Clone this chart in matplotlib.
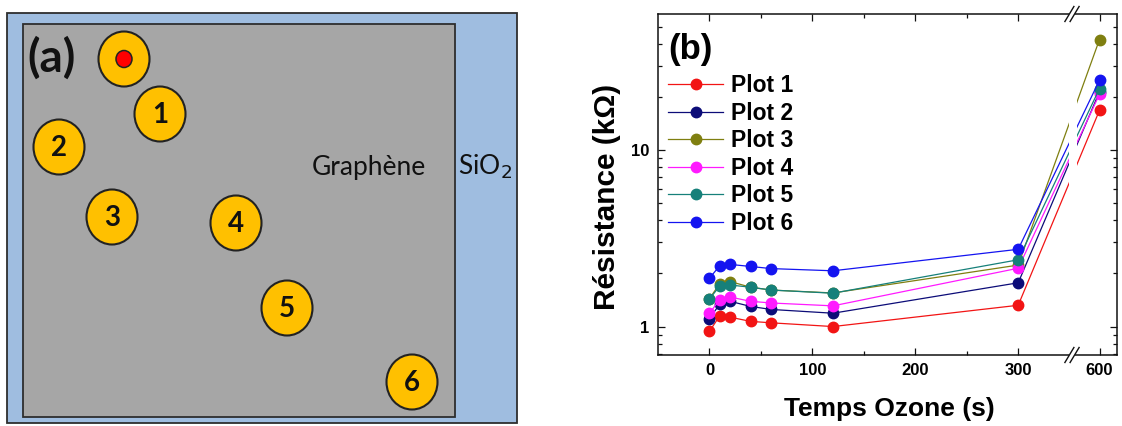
import numpy as np
import matplotlib
matplotlib.use("Agg")
import matplotlib.pyplot as plt
from matplotlib.patches import Rectangle, Ellipse
from matplotlib.ticker import FixedLocator, NullFormatter, FixedFormatter, LogLocator

# ---------------- data ----------------
time_s = [0, 10, 20, 40, 60, 120, 300, 600]
series_names = ["Plot 1", "Plot 2", "Plot 3", "Plot 4", "Plot 5", "Plot 6"]
plot1 = [0.94, 1.15, 1.13, 1.07, 1.05, 1.00, 1.32, 16.8]
plot2 = [1.11, 1.34, 1.39, 1.30, 1.25, 1.19, 1.77, 21.4]
plot3 = [1.44, 1.75, 1.80, 1.67, 1.61, 1.55, 2.23, 42.3]
plot4 = [1.19, 1.42, 1.47, 1.39, 1.36, 1.31, 2.14, 20.7]
plot5 = [1.43, 1.70, 1.72, 1.67, 1.61, 1.545, 2.39, 22.3]
plot6 = [1.88, 2.21, 2.25, 2.19, 2.13, 2.07, 2.74, 24.9]
series_values = [plot1, plot2, plot3, plot4, plot5, plot6]
x_tick_values = [0, 100, 200, 300, 600]
x_tick_labels = ["0", "100", "200", "300", "600"]
y_tick_values = [1, 10]
y_tick_labels = ["1", "10"]

# schematic (panel a) contact labels
contact_labels = ["", "1", "2", "3", "4", "5", "6"]

# ---------------- style ----------------
colors = ["#f21414", "#0c0c78", "#7f7f10", "#ff1aff", "#16807a", "#1414f0"]
W, H = 1122, 426
fig = plt.figure(figsize=(W / 100, H / 100), dpi=100)

# ---------------- panel (a): schematic in pixel coordinates ----------------
axa = fig.add_axes([0, 0, 1, 1])
axa.set_xlim(0, W)
axa.set_ylim(H, 0)
axa.axis("off")
axa.add_patch(Rectangle((7, 13), 510, 410, facecolor="#9fbde0", edgecolor="#2e2e2e", lw=1.3))
axa.add_patch(Rectangle((23, 24), 432, 393, facecolor="#a6a6a6", edgecolor="#2e2e2e", lw=1.3))
contact_pos = [(124, 59), (160, 114), (59, 147), (112, 217), (236, 223), (287, 308), (412, 382)]
for (cx, cy), lab in zip(contact_pos, contact_labels):
    axa.add_patch(Ellipse((cx, cy), 51, 55, facecolor="#ffc000", edgecolor="#222222", lw=1.5))
    if lab:
        axa.text(cx, cy + 1, lab, ha="center", va="center", fontsize=20,
                 fontweight="bold", family="Lato", color="#111111")
    else:
        axa.add_patch(Ellipse((cx, cy), 16, 17, facecolor="#ff0000", edgecolor="#222222", lw=1.1))
axa.text(52, 58, "(a)", ha="center", va="center", fontsize=33, fontweight="bold",
         family="Lato", color="#111111")
axa.text(369, 167, "Graphène", ha="center", va="center", fontsize=19,
         family="Lato", color="#111111")
axa.text(485, 167, "SiO$_2$", ha="center", va="center", fontsize=19,
         family="Lato", color="#111111")

# ---------------- panel (b) ----------------
B1, B2 = 350.0, 575.0
K = 4.0 / 225.0


def fwd(x):
    x = np.asarray(x, dtype=float)
    return np.where(x <= B1, x,
                    np.where(x < B2, B1 + (x - B1) * K, B1 + (B2 - B1) * K + (x - B2)))


def inv(u):
    u = np.asarray(u, dtype=float)
    g = B1 + (B2 - B1) * K
    return np.where(u <= B1, u,
                    np.where(u < g, B1 + (u - B1) / K, B2 + (u - g)))


left, right, top, bottom = 658, 1117, 14, 355
axb = fig.add_axes([left / W, 1 - bottom / H, (right - left) / W, (bottom - top) / H])
axb.set_xscale("function", functions=(fwd, inv))
axb.set_yscale("log")

for name, vals, c in zip(series_names, series_values, colors):
    axb.plot(time_s, vals, "-o", color=c, lw=0.9, ms=7.5, mec=c, label=name, zorder=2)

axb.set_xlim(-50, 617)
axb.set_ylim(0.69, 59)

# gap in lines at the axis break
axb.axvspan(349.7, 578.5, color="white", zorder=2.2, lw=0)

axb.xaxis.set_major_locator(FixedLocator(x_tick_values))
axb.xaxis.set_major_formatter(FixedFormatter(x_tick_labels))
axb.xaxis.set_minor_locator(FixedLocator([50, 150, 250]))
axb.yaxis.set_major_locator(FixedLocator(y_tick_values))
axb.yaxis.set_major_formatter(FixedFormatter(y_tick_labels))
axb.yaxis.set_minor_locator(LogLocator(base=10, subs=np.arange(2, 10)))
axb.yaxis.set_minor_formatter(NullFormatter())

axb.tick_params(which="both", direction="in", top=True, right=True, width=0.9, color="#111111")
axb.tick_params(which="major", length=5)
axb.tick_params(which="minor", length=3)
axb.tick_params(axis="both", which="major", labelsize=12, pad=6)
for lab in axb.get_xticklabels() + axb.get_yticklabels():
    lab.set_fontweight("bold")
    lab.set_family("Liberation Sans")
for sp in axb.spines.values():
    sp.set_linewidth(1.1)
    sp.set_color("#111111")

# axis break marks
xb = (1072 - left) / (right - left)
dx, dy = 4.5 / (right - left), 7.5 / (bottom - top)
sep = 2.6 / (right - left)
for yb in (0.0, 1.0):
    axb.add_patch(Rectangle((xb - sep, yb - 0.006), 2 * sep, 0.012, transform=axb.transAxes,
                            facecolor="white", edgecolor="none", clip_on=False, zorder=5))
    for s in (-sep, sep):
        axb.plot([xb + s - dx, xb + s + dx], [yb - dy, yb + dy], transform=axb.transAxes,
                 color="#111111", lw=1.0, clip_on=False, zorder=6)

axb.set_xlabel("Temps Ozone (s)", fontsize=19, fontweight="bold", family="Liberation Sans")
axb.xaxis.set_label_coords((889 - left) / (right - left), -(409 - bottom) / (bottom - top))
axb.xaxis.label.set_va("center")
fig.text(607 / W, 1 - 197 / H, "Résistance (kΩ)", rotation=90, ha="center", va="center",
         fontsize=21.5, fontweight="bold", family="Liberation Sans")

axb.text((690 - left) / (right - left), 1 - (49 - top) / (bottom - top), "(b)",
         transform=axb.transAxes, ha="center", va="center", fontsize=25,
         fontweight="bold", family="Liberation Sans")

leg = axb.legend(loc="upper left", bbox_to_anchor=((668 - left) / (right - left), 1 - (74 - top) / (bottom - top)),
                 frameon=False, prop={"family": "Liberation Sans", "weight": "bold", "size": 16.5},
                 handlelength=2.4, handletextpad=0.35, labelspacing=0.2, borderpad=0, borderaxespad=0)

fig.savefig("out.png", dpi=100)
